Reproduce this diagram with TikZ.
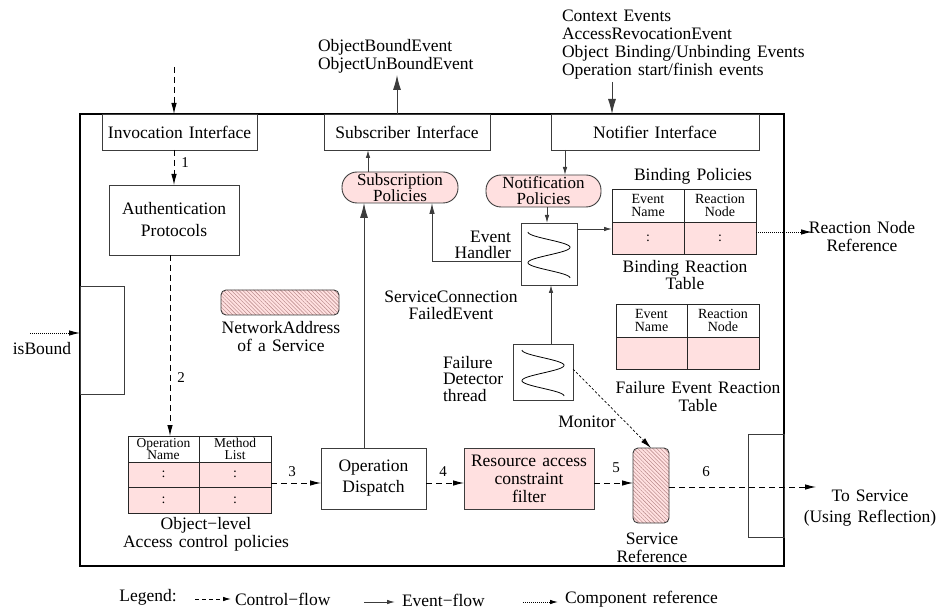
\documentclass[tikz,border=0pt]{standalone}
\usepackage{fontspec}
\setmainfont[WordSpace=1.4]{Liberation Serif}
\usetikzlibrary{arrows.meta,patterns.meta,calc}
\definecolor{pinkfill}{RGB}{255,224,224}
\definecolor{hatchline}{RGB}{175,125,125}
\definecolor{linegray}{RGB}{60,60,60}
\begin{document}
\begin{tikzpicture}[x=1pt,y=-1pt,
  every node/.style={inner sep=0pt, outer sep=0pt},
  txt/.style={font=\fontsize{17.5}{18}\selectfont, align=center},
  box/.style={draw=linegray, line width=0.9pt, font=\fontsize{17.5}{18}\selectfont, align=center},
  pinkbox/.style={box, fill=pinkfill},
  pill/.style={box, fill=pinkfill, rounded corners=15pt, font=\fontsize{17}{16}\selectfont},
  hatched/.style={draw=linegray, line width=0.9pt, rounded corners=5pt,
    preaction={fill=pinkfill},
    pattern={Lines[angle=-45, distance=2.7pt, line width=0.4pt]}, pattern color=hatchline},
  cell/.style={draw=black!85, line width=0.9pt, font=\fontsize{14}{12.5}\selectfont, align=center},
  bighead/.style={-{Latex[length=15pt,width=8pt]}},
  midhead/.style={-{Latex[length=11pt,width=5.5pt]}},
  smallhead/.style={-{Latex[length=8pt,width=4.5pt]}},
  ev/.style={line width=0.9pt, draw=linegray},
  ctl/.style={line width=0.9pt, dash pattern=on 6pt off 4pt, midhead},
  compref/.style={line width=0.9pt, dash pattern=on 1pt off 1pt, midhead},
  num/.style={font=\fontsize{15}{15}\selectfont},
  wave/.pic={\draw[line width=0.8pt] plot[domain=0:540, samples=90, smooth]
      ({-21*cos(\x)}, {-22+\x/540*46});}
]
\useasboundingbox (0,0) rectangle (942,609);

% component frame
\node[draw, line width=2pt, minimum width=704, minimum height=452] (frame) at (432,340) {};

% interfaces along the top edge
\node[box, minimum width=155, minimum height=36] (ii) at (179.5,132) {Invocation Interface};
\node[box, minimum width=166, minimum height=36] (si) at (407,132) {Subscriber Interface};
\node[box, minimum width=208, minimum height=36] (ni) at (655,132) {Notifier Interface};

% ports on the left and right edges
\node[box, minimum width=44, minimum height=108] (lb) at (102,340) {};
\node[box, minimum width=36, minimum height=103] (rb) at (766,485.5) {};

% processing boxes
\node[box, minimum width=130, minimum height=70, font=\fontsize{17.5}{22}\selectfont] (auth) at (174,220) {Authentication\\Protocols};
\node[pill, minimum width=116, minimum height=31] (sp) at (400,187.5) {Subscription\\Policies};
\node[pill, minimum width=115, minimum height=32] (np) at (543.5,191) {Notification\\Policies};
\node[box, minimum width=56, minimum height=62] (eh) at (549,254) {};
\pic at (eh) {wave};
\node[box, minimum width=60, minimum height=56] (fd) at (543,372) {};
\pic at (fd) {wave};
\node[box, minimum width=105, minimum height=61, font=\fontsize{17.5}{21}\selectfont] (od) at (373.5,478.5) {Operation\\Dispatch};
\node[pinkbox, minimum width=130, minimum height=61] (rf) at (529,478.5) {Resource access\\constraint\\filter};
\node[hatched, minimum width=36, minimum height=75] (sr) at (651,485.5) {};
\node[hatched, minimum width=118, minimum height=25] (na) at (280,302.5) {};

% binding reaction table
\node[cell, minimum width=72, minimum height=33] (bt1) at (648,205.5) {Event\\Name};
\node[cell, minimum width=72, minimum height=33] (bt2) at (720,205.5) {Reaction\\Node};
\node[cell, fill=pinkfill, minimum width=72, minimum height=32] (bt3) at (648,238) {:};
\node[cell, fill=pinkfill, minimum width=72, minimum height=32] (bt4) at (720,238) {:};

% failure event reaction table
\node[cell, minimum width=71, minimum height=33] (ft1) at (651.5,320.5) {Event\\Name};
\node[cell, minimum width=72, minimum height=33] (ft2) at (723,320.5) {Reaction\\Node};
\node[cell, fill=pinkfill, minimum width=71, minimum height=32] (ft3) at (651.5,353) {};
\node[cell, fill=pinkfill, minimum width=72, minimum height=32] (ft4) at (723,353) {};

% object-level access control table
\node[cell, minimum width=71, minimum height=26, font=\fontsize{13.5}{12}\selectfont] (ot1) at (163.5,449) {Operation\\Name};
\node[cell, minimum width=72, minimum height=26, font=\fontsize{13.5}{12}\selectfont] (ot2) at (235,449) {Method\\List};
\node[cell, fill=pinkfill, minimum width=71, minimum height=25] (ot3) at (163.5,474.5) {:};
\node[cell, fill=pinkfill, minimum width=72, minimum height=25] (ot4) at (235,474.5) {:};
\node[cell, fill=pinkfill, minimum width=71, minimum height=26] (ot5) at (163.5,500) {:};
\node[cell, fill=pinkfill, minimum width=72, minimum height=26] (ot6) at (235,500) {:};

% labels
\node[txt, anchor=west, align=left] (obe) at (318,56) {ObjectBoundEvent\\ObjectUnBoundEvent};
\node[txt, anchor=west, align=left] (ctx) at (562,45) {Context Events\\AccessRevocationEvent\\Object Binding/Unbinding Events\\Operation start/finish events};
\node[txt] (bpl) at (693,176) {Binding Policies};
\node[txt, font=\fontsize{17.5}{17}\selectfont] (brt) at (685,275) {Binding Reaction\\Table};
\node[txt, anchor=east, align=right, font=\fontsize{17.5}{16}\selectfont] (ehl) at (511,245) {Event\\Handler};
\node[txt, font=\fontsize{17.5}{17}\selectfont] (scf) at (451,305) {ServiceConnection\\FailedEvent};
\node[txt, anchor=west, align=left, font=\fontsize{17.5}{16.5}\selectfont] (fdl) at (443,379) {Failure\\Detector\\thread};
\node[txt] (fert) at (698,397) {Failure Event Reaction\\Table};
\node[txt] (rnr) at (862,237) {Reaction Node\\Reference};
\node[txt, font=\fontsize{17.5}{21}\selectfont] (tsl) at (870,508) {To Service\\(Using Reflection)};
\node[txt] (srl) at (652,548) {Service\\Reference};
\node[txt] (mon) at (587,422) {Monitor};
\node[txt] (nal) at (281,337) {NetworkAddress\\of a Service};
\node[txt] (oll) at (206,534) {Object−level\\Access control policies};
\node[txt] (isb) at (42,349) {isBound};

% step numbers
\node[num] (n1) at (185,163) {1};
\node[num] (n2) at (181,378) {2};
\node[num] (n3) at (292,472) {3};
\node[num] (n4) at (443,472) {4};
\node[num] (n5) at (616,468) {5};
\node[num] (n6) at (706,472) {6};

% free ends of external connectors
\coordinate (invin) at (174,67);
\coordinate (obeout) at (397,75);
\coordinate (ctxin) at (612,82);
\coordinate (isbin) at (30,333);
\coordinate (rnrout) at (812,232);
\coordinate (tsout) at (816,487);

% control flow
\draw[ctl] (invin) -- (invin |- ii.north);
\draw[ctl] (auth.north |- ii.south) -- (auth.north);
\coordinate (a2) at ($(auth.south)+(-4,0)$);
\draw[ctl] (a2) -- (a2 |- ot1.north);
\coordinate (c3) at ($(od.west)+(0,4.5)$);
\draw[ctl] (c3 -| ot4.east) -- (c3);
\coordinate (c4) at ($(od.east)+(0,4.5)$);
\draw[ctl] (c4) -- (c4 -| rf.west);
\coordinate (c5) at ($(rf.east)+(0,4.5)$);
\draw[ctl] (c5) -- (c5 -| sr.west);
\draw[ctl] (tsout -| sr.east) -- (tsout);

% event flow
\draw[ev, bighead] (obeout |- si.north) -- (obeout);
\draw[ev, bighead] (ctxin) -- (ctxin |- ni.north);
\coordinate (odup) at ($(od.north)+(-9.5,0)$);
\draw[ev, bighead] (odup) -- (odup |- sp.south);
\coordinate (spup) at ($(sp.north)+(-32,0)$);
\draw[ev, smallhead] (spup) -- (spup |- si.south);
\coordinate (npin) at ($(np.north)+(21.5,0)$);
\draw[ev, smallhead] (npin |- ni.south) -- (npin);
\coordinate (ehin) at ($(eh.north)+(-2,0)$);
\draw[ev, smallhead] (ehin |- np.south) -- (ehin);
\coordinate (ehout) at ($(eh.east)+(0,-25)$);
\draw[ev, smallhead] (ehout) -- (ehout -| bt3.west);
\coordinate (ehleft) at ($(eh.west)+(0,7)$);
\coordinate (spin) at ($(sp.south)+(32,0)$);
\draw[ev, midhead] (ehleft) -| (spin);
\coordinate (fdup) at ($(fd.north)+(8,0)$);
\draw[ev, smallhead] (fdup) -- (fdup |- eh.south);
\draw[line width=0.7pt, dash pattern=on 2.5pt off 2pt, midhead] ($(fd.east)+(0,-3)$) -- (sr.north);

% component references
\draw[compref] (isbin) -- (isbin -| lb.west);
\draw[compref] (rnrout -| bt4.east) -- (rnrout);

% legend
\node[txt] (leg) at (148,597) {Legend:};
\coordinate (l1a) at (195,599);
\coordinate (l1b) at (231,599);
\draw[line width=0.9pt, dash pattern=on 4pt off 3pt, smallhead] (l1a) -- (l1b);
\node[txt, anchor=west] (l1t) at (235,599) {Control−flow};
\coordinate (l2a) at (364,602);
\coordinate (l2b) at (395,602);
\draw[ev, smallhead] (l2a) -- (l2b);
\node[txt, anchor=west] (l2t) at (402,600) {Event−flow};
\coordinate (l3a) at (523,602);
\coordinate (l3b) at (558,602);
\draw[line width=0.9pt, dash pattern=on 1pt off 1pt, smallhead] (l3a) -- (l3b);
\node[txt, anchor=west] (l3t) at (565,599) {Component reference};
\end{tikzpicture}
\end{document}
